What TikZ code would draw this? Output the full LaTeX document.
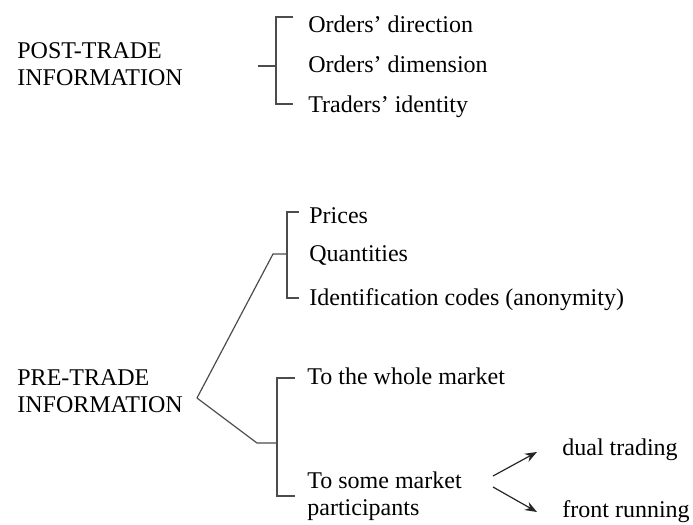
\documentclass[tikz,border=0pt]{standalone}
\usepackage{fontspec}
\setmainfont{Liberation Serif}
\usepackage{tikz}
\usetikzlibrary{arrows.meta}

\tikzset{
  lbl/.style={inner sep=0pt, anchor=base west, font=\fontsize{12}{13.5}\selectfont},
  head/.style={inner sep=0pt, anchor=west, align=left, font=\fontsize{12}{13.5}\selectfont},
  brace/.style={draw=black!70, line width=0.6pt},
  pointer/.style={draw=black!85, line width=0.6pt, -{Stealth[length=6pt,width=4.5pt]}}
}

\begin{document}
\begin{tikzpicture}[x=0.5pt, y=-0.5pt]
  \useasboundingbox (0,0) rectangle (693,525);

  % post-trade
  \node[head] (post) at (17,64) {POST-TRADE\\INFORMATION};
  \node[lbl] (dir) at (308,32) {Orders' direction};
  \node[lbl] (dim) at (308,72) {Orders' dimension};
  \node[lbl] (ident) at (308,112) {Traders' identity};

  \coordinate (posttop) at (276,17);
  \coordinate (postbot) at (276,104);
  \coordinate (postmid) at (276,66);
  \draw[brace] (293,17) -- (posttop) -- (postbot) -- (293,104);
  \draw[brace] (258,66) -- (postmid);

  % pre-trade
  \node[head] (pre) at (17,391) {PRE-TRADE\\INFORMATION};
  \node[lbl] (prices) at (309,223) {Prices};
  \node[lbl] (qty) at (309,261) {Quantities};
  \node[lbl] (codes) at (309,305) {Identification codes (anonymity)};
  \node[lbl] (whole) at (307,384) {To the whole market};
  \node[lbl, align=left, anchor=north west] (some) at (307,471) {To some market\\participants};
  \node[lbl] (dual) at (562,455) {dual trading};
  \node[lbl] (front) at (562,517) {front running};

  \coordinate (vtx) at (197,398);
  \coordinate (upfork) at (287,254);
  \coordinate (lowfork) at (277,443);

  \draw[brace] (vtx) -- (273,254) -- (upfork);
  \draw[brace] (299,212) -- (287,212) -- (287,298) -- (299,298);
  \draw[brace] (vtx) -- (257,443) -- (lowfork);
  \draw[brace] (295,378) -- (277,378) -- (277,496) -- (295,496);

  \draw[pointer] (493,476) -- (537,452);
  \draw[pointer] (493,487) -- (537,512);
\end{tikzpicture}
\end{document}
